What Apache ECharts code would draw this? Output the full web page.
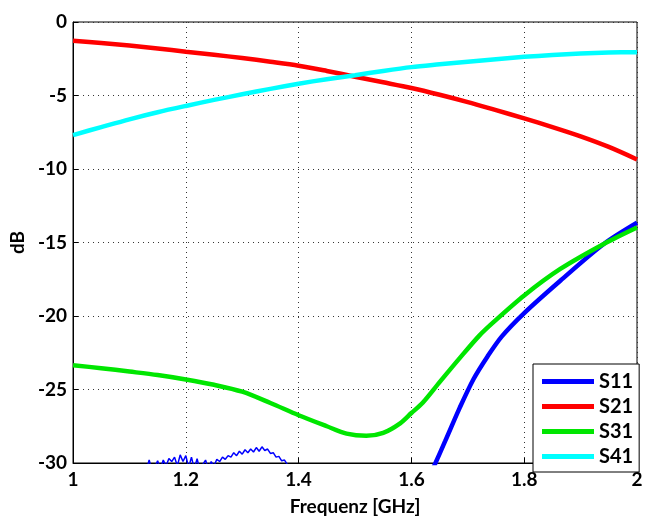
<!DOCTYPE html>
<html>
<head>
<meta charset="utf-8">
<script src="https://cdn.jsdelivr.net/npm/echarts@6/dist/echarts.min.js"></script>
<style>html,body{margin:0;padding:0;background:#fff;}#c{width:646px;height:521px;}</style>
</head>
<body>
<div id="c"></div>
<script>
// Data
const freqMain = [1.0,1.05,1.1,1.15,1.2,1.25,1.3,1.35,1.4,1.45,1.5,1.55,1.6,1.65,1.7,1.75,1.8,1.85,1.9,1.95,2.0];
const s21 = [-1.28,-1.43,-1.60,-1.80,-2.02,-2.23,-2.45,-2.70,-2.97,-3.33,-3.72,-4.10,-4.49,-4.95,-5.45,-6.00,-6.56,-7.15,-7.78,-8.50,-9.35];
const s41 = [-7.69,-7.15,-6.62,-6.14,-5.71,-5.30,-4.92,-4.55,-4.20,-3.89,-3.62,-3.33,-3.07,-2.88,-2.70,-2.53,-2.37,-2.25,-2.15,-2.08,-2.05];
const freqS31 = [1.0,1.05,1.1,1.15,1.2,1.25,1.3,1.35,1.4,1.45,1.485,1.52,1.55,1.58,1.6,1.62,1.65,1.686,1.72,1.746,1.8,1.864,1.941,2.0];
const s31 = [-23.35,-23.55,-23.78,-24.02,-24.32,-24.68,-25.15,-25.92,-26.75,-27.5,-28.0,-28.15,-27.95,-27.3,-26.6,-25.9,-24.5,-22.85,-21.35,-20.4,-18.6,-16.8,-15.1,-13.98];
const freqS11 = [1.638,1.66,1.685,1.71,1.735,1.76,1.8,1.864,1.941,2.0];
const s11 = [-30.4,-28.5,-26.3,-24.3,-22.75,-21.4,-19.8,-17.6,-15.1,-13.65];
const freqS11Low = [1.125,1.13,1.135,1.14,1.145,1.15,1.155,1.16,1.165,1.17,1.175,1.18,1.185,1.19,1.195,1.2,1.205,1.21,1.215,1.22,1.225,1.23,1.235,1.24,1.245,1.25,1.255,1.26,1.265,1.27,1.275,1.28,1.285,1.29,1.295,1.3,1.305,1.31,1.315,1.32,1.325,1.33,1.335,1.34,1.345,1.35,1.355,1.36,1.365,1.37,1.375,1.38,1.385];
const s11Low = [-30.5,-30.5,-29.8,-30.5,-30.3,-29.85,-30.4,-29.8,-30.2,-29.7,-29.9,-29.6,-30.2,-29.45,-29.9,-29.5,-30.3,-29.6,-30.4,-29.7,-30.5,-30.1,-29.8,-30.4,-29.9,-30.2,-29.75,-29.9,-29.6,-29.75,-29.5,-29.6,-29.3,-29.5,-29.2,-29.4,-29.1,-29.3,-29.05,-29.25,-28.95,-29.2,-28.9,-29.15,-29.05,-29.35,-29.3,-29.6,-29.55,-29.85,-29.8,-30.1,-30.5];
const seriesNames = ['S11','S21','S31','S41'];
const seriesColors = ['#0000ff','#ff0000','#00e600','#00ffff'];

const zip = (xs, ys) => xs.map((x, i) => [x, ys[i]]);
const FONT = 'Lato';

const chart = echarts.init(document.getElementById('c'), null, {renderer: 'canvas'});
const lineSeries = (name, data, color, width, smooth) => ({
  name: name, type: 'line', data: data, showSymbol: false, smooth: smooth,
  lineStyle: {color: color, width: width}, itemStyle: {color: color},
  clip: true, animation: false, z: 3
});
chart.setOption({
  animation: false,
  backgroundColor: '#fff',
  grid: {left: 73, top: 22, right: 9, bottom: 54, show: true, borderColor: '#000', borderWidth: 1, backgroundColor: 'transparent'},
  xAxis: {
    type: 'value', min: 1, max: 2, interval: 0.2,
    name: 'Frequenz [GHz]', nameLocation: 'middle', nameGap: 34,
    nameTextStyle: {fontFamily: FONT, fontWeight: 'bold', fontSize: 19, color: '#000'},
    axisLine: {show: true, onZero: false, lineStyle: {color: '#000', width: 1}},
    axisTick: {show: true, inside: true, length: 5, lineStyle: {color: '#000'}},
    axisLabel: {fontFamily: FONT, fontWeight: 'bold', fontSize: 19, color: '#000', margin: 7},
    splitLine: {show: true, lineStyle: {color: '#333', type: [1, 4], width: 1}}
  },
  yAxis: {
    type: 'value', min: -30, max: 0, interval: 5,
    name: 'dB', nameLocation: 'middle', nameGap: 45, nameRotate: 90,
    nameTextStyle: {fontFamily: FONT, fontWeight: 'bold', fontSize: 19, color: '#000'},
    axisLine: {show: true, onZero: false, lineStyle: {color: '#000', width: 1}},
    axisTick: {show: true, inside: true, length: 5, lineStyle: {color: '#000'}},
    axisLabel: {fontFamily: FONT, fontWeight: 'bold', fontSize: 19, color: '#000', margin: 6},
    splitLine: {show: true, lineStyle: {color: '#333', type: [1, 4], width: 1}}
  },
  legend: {
    data: seriesNames,
    orient: 'vertical', left: 533, top: 364,
    backgroundColor: '#fff', borderColor: '#000', borderWidth: 1,
    padding: [7, 6, 5, 9], itemGap: 4,
    itemWidth: 52, itemHeight: 5, icon: 'rect',
    textStyle: {fontFamily: FONT, fontWeight: 'bold', fontSize: 20, color: '#000', lineHeight: 21}
  },
  series: [
    lineSeries('S11', zip(freqS11, s11), seriesColors[0], 4.5, 0.3),
    lineSeries('S21', zip(freqMain, s21), seriesColors[1], 4.5, 0.3),
    lineSeries('S31', zip(freqS31, s31), seriesColors[2], 4.5, 0.3),
    lineSeries('S41', zip(freqMain, s41), seriesColors[3], 4.5, 0.3),
    Object.assign(lineSeries('S11 low', zip(freqS11Low, s11Low), seriesColors[0], 1.5, false), {legendHoverLink: false})
  ]
});
</script>
</body>
</html>
